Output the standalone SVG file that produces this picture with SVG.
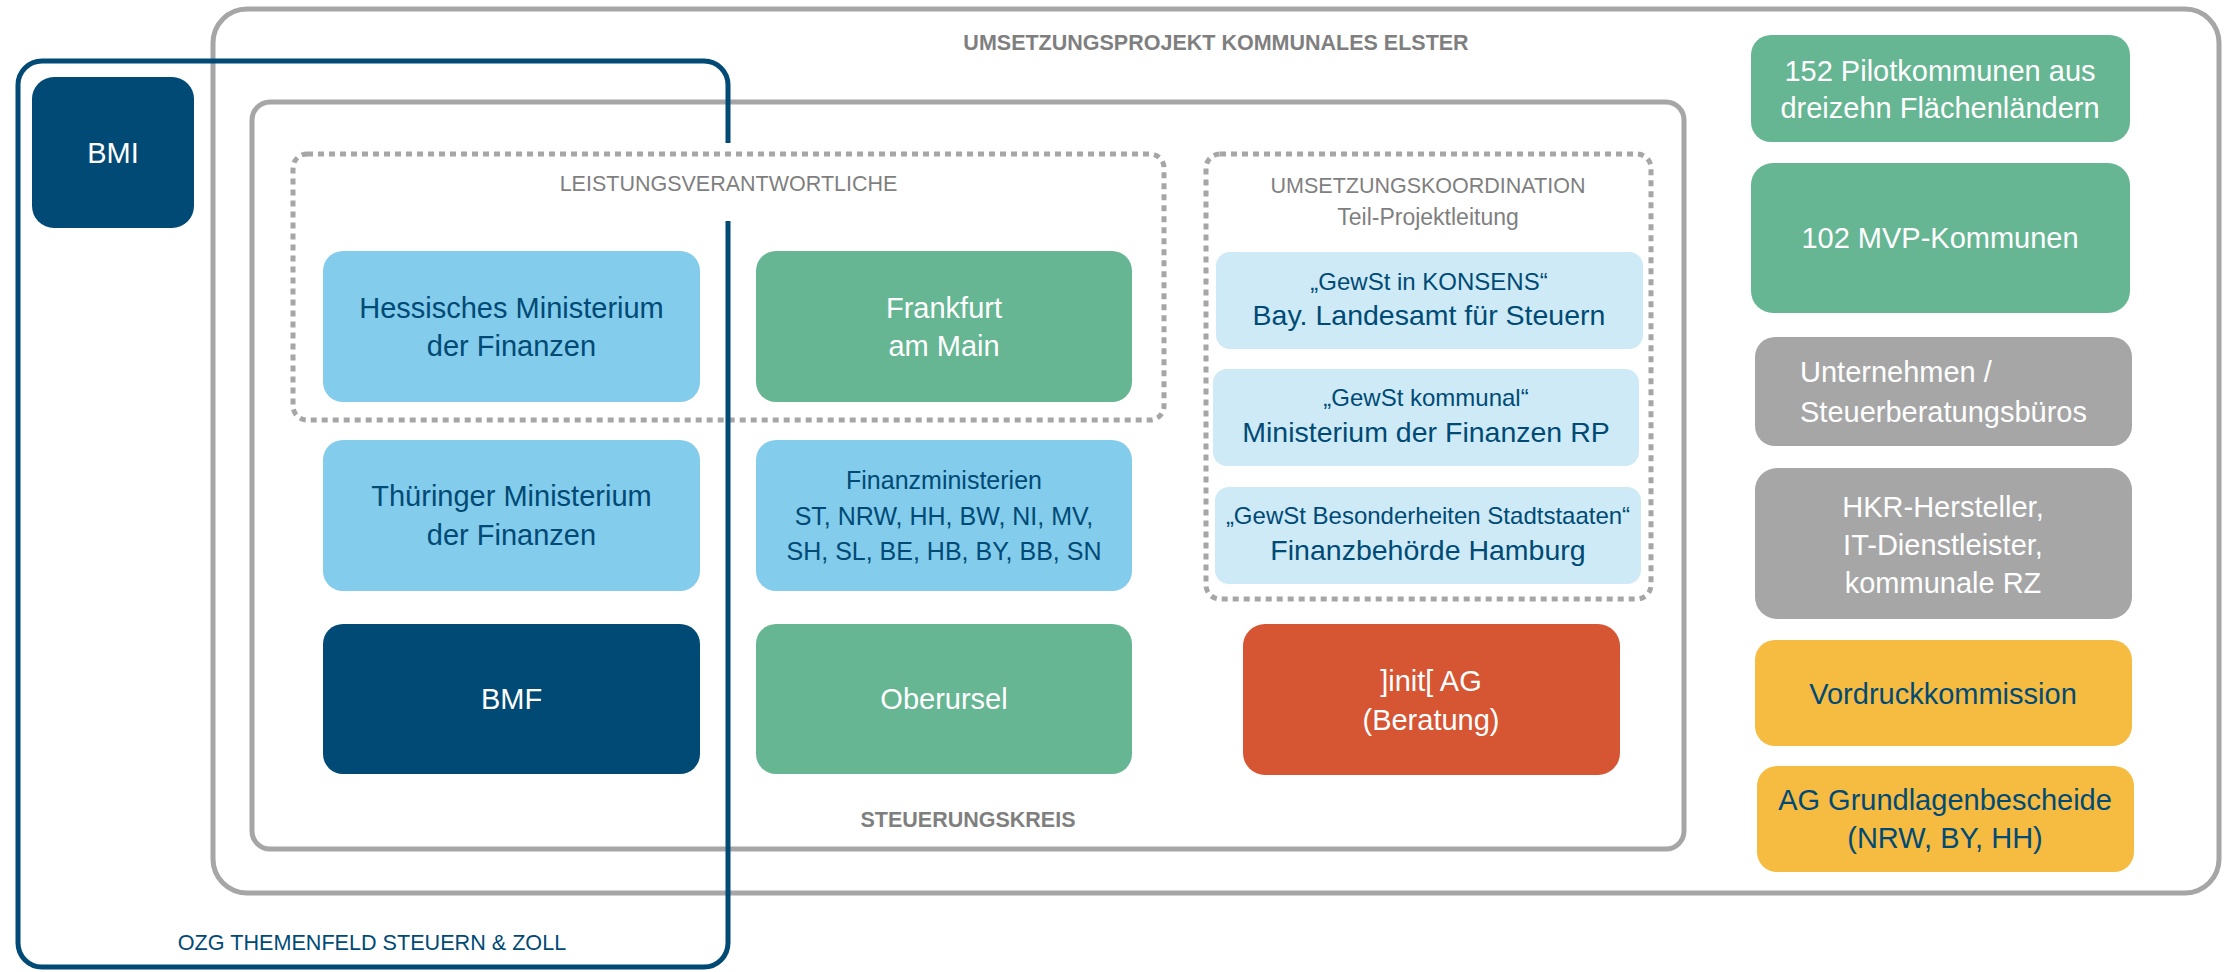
<svg xmlns="http://www.w3.org/2000/svg" width="2229" height="972" viewBox="0 0 2229 972">
<style>
text{font-family:"Liberation Sans",Arial,sans-serif;text-anchor:middle}
.frame{fill:none;stroke:#a6a6a6;stroke-width:5}
.dot{fill:none;stroke:#a6a6a6;stroke-width:5;stroke-dasharray:6 5}
.ozg{fill:none;stroke:#004a75;stroke-width:5}
.dk{fill:#004a75}.lb{fill:#83ccec}.gr{fill:#66b693}.pb{fill:#cdeaf6}.or{fill:#d65532}.gy{fill:#a6a6a6}.ye{fill:#f6bb41}
.w{fill:#ffffff}.b{fill:#004a75}
.t29{font-size:29px}.t28{font-size:28.5px}.t25{font-size:25px}.t24{font-size:24px}
.hd{font-size:21.5px;font-weight:bold;fill:#7f7f7f}
.lbl{font-size:21.5px;fill:#7f7f7f}
</style>
<rect width="2229" height="972" fill="#ffffff"/>
<g id="frames">
<rect id="umsetzungsprojekt" class="frame" x="213" y="9" width="2006" height="884" rx="34"/>
<rect id="steuerungskreis" class="frame" x="252" y="102" width="1432" height="747" rx="18"/>
<rect id="leistungsverantwortliche" class="dot" x="293" y="154" width="871" height="266" rx="14"/>
<rect id="umsetzungskoordination" class="dot" x="1206" y="154" width="445" height="445" rx="14"/>
</g>
<g id="labels">
<text class="hd" x="1216" y="50">UMSETZUNGSPROJEKT KOMMUNALES ELSTER</text>
<text class="hd" x="968" y="827" font-size="20">STEUERUNGSKREIS</text>
<text class="lbl" x="728.5" y="191">LEISTUNGSVERANTWORTLICHE</text>
<text class="lbl" x="1428" y="193" font-size="22">UMSETZUNGSKOORDINATION</text>
<text class="lbl" x="1428" y="225" style="font-size:23px">Teil-Projektleitung</text>
</g>
<g id="n-bmi"><rect class="dk" x="32" y="77" width="162" height="151" rx="22"/><text class="w t29" x="113" y="163">BMI</text></g>
<g id="n-hessen"><rect class="lb" x="323" y="251" width="377" height="151" rx="20"/><text class="b t29" x="511.5" y="318">Hessisches Ministerium</text><text class="b t29" x="511.5" y="356">der Finanzen</text></g>
<g id="n-frankfurt"><rect class="gr" x="756" y="251" width="376" height="151" rx="20"/><text class="w t29" x="944" y="318">Frankfurt</text><text class="w t29" x="944" y="356">am Main</text></g>
<g id="n-thueringen"><rect class="lb" x="323" y="440" width="377" height="151" rx="20"/><text class="b t29" x="511.5" y="506">Thüringer Ministerium</text><text class="b t29" x="511.5" y="545">der Finanzen</text></g>
<g id="n-finanzministerien"><rect class="lb" x="756" y="440" width="376" height="151" rx="20"/><text class="b t25" x="944" y="489">Finanzministerien</text><text class="b t25" x="944" y="525">ST, NRW, HH, BW, NI, MV,</text><text class="b t25" x="944" y="560">SH, SL, BE, HB, BY, BB, SN</text></g>
<g id="n-bmf"><rect class="dk" x="323" y="624" width="377" height="150" rx="20"/><text class="w t29" x="511.5" y="709">BMF</text></g>
<g id="n-oberursel"><rect class="gr" x="756" y="624" width="376" height="150" rx="20"/><text class="w t29" x="944" y="709">Oberursel</text></g>
<g id="n-konsens"><rect class="pb" x="1216" y="252" width="427" height="97" rx="14"/><text class="b t24" x="1429" y="290">„GewSt in KONSENS“</text><text class="b t28" x="1429" y="325">Bay. Landesamt für Steuern</text></g>
<g id="n-kommunal"><rect class="pb" x="1213" y="369" width="426" height="97" rx="14"/><text class="b t24" x="1426" y="406">„GewSt kommunal“</text><text class="b t28" x="1426" y="442">Ministerium der Finanzen RP</text></g>
<g id="n-stadtstaaten"><rect class="pb" x="1215" y="487" width="426" height="97" rx="14"/><text class="b t24" x="1428" y="524">„GewSt Besonderheiten Stadtstaaten“</text><text class="b t28" x="1428" y="560">Finanzbehörde Hamburg</text></g>
<g id="n-init"><rect class="or" x="1243" y="624" width="377" height="151" rx="22"/><text class="w t29" x="1431" y="691">]init[ AG</text><text class="w t29" x="1431" y="730">(Beratung)</text></g>
<g id="n-pilot"><rect class="gr" x="1751" y="35" width="379" height="107" rx="20"/><text class="w t29" x="1940" y="81">152 Pilotkommunen aus</text><text class="w t29" x="1940" y="118">dreizehn Flächenländern</text></g>
<g id="n-mvp"><rect class="gr" x="1751" y="163" width="379" height="150" rx="22"/><text class="w t29" x="1940" y="248">102 MVP-Kommunen</text></g>
<g id="n-unternehmen"><rect class="gy" x="1755" y="337" width="377" height="109" rx="20"/><text class="w t29" x="1800" y="382" text-anchor="start" style="text-anchor:start">Unternehmen /</text><text class="w t29" x="1800" y="422" style="text-anchor:start">Steuerberatungsbüros</text></g>
<g id="n-hkr"><rect class="gy" x="1755" y="468" width="377" height="151" rx="22"/><text class="w t29" x="1943" y="517">HKR-Hersteller,</text><text class="w t29" x="1943" y="555">IT-Dienstleister,</text><text class="w t29" x="1943" y="593">kommunale RZ</text></g>
<g id="n-vordruck"><rect class="ye" x="1755" y="640" width="377" height="106" rx="20"/><text class="b t29" x="1943" y="704">Vordruckkommission</text></g>
<g id="n-ag"><rect class="ye" x="1757" y="766" width="377" height="106" rx="20"/><text class="b t29" x="1945" y="810">AG Grundlagenbescheide</text><text class="b t29" x="1945" y="848">(NRW, BY, HH)</text></g>
<g id="ozg">
<path class="ozg" d="M728 221 L728 943 A24 24 0 0 1 704 967 L42 967 A24 24 0 0 1 18 943 L18 85 A24 24 0 0 1 42 61 L704 61 A24 24 0 0 1 728 85 L728 143"/>
<text class="b" x="372" y="950" style="font-size:21.6px">OZG THEMENFELD STEUERN &amp; ZOLL</text>
</g>
<g id="connectors"></g>
</svg>
